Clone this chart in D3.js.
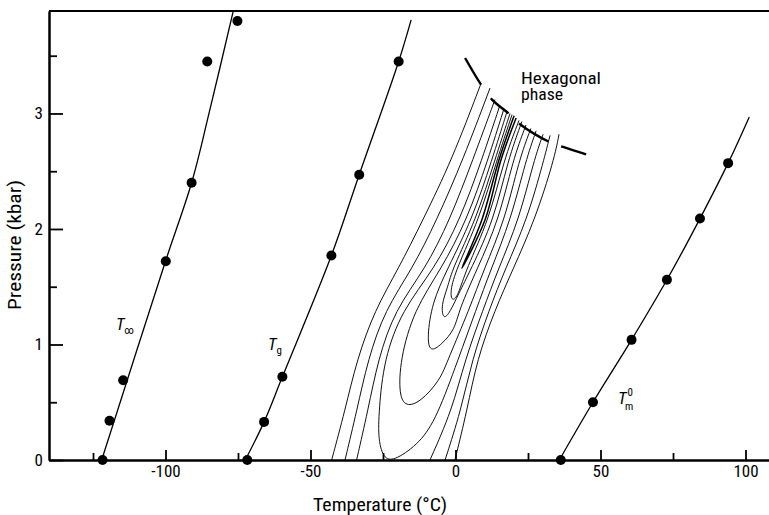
<!DOCTYPE html>
<html>
<head>
<meta charset="utf-8">
<script src="https://cdn.jsdelivr.net/npm/d3@7"></script>
<style>
body { margin: 0; background: #fff; }
svg { display: block; }
</style>
</head>
<body>
<svg id="chart" width="769" height="515"></svg>
<script>
// ---- data (temperature in °C, pressure in kbar) ----
var xMajor = [-100, -50, 0, 50, 100];
var xMinor = [-125, -75, -25, 25, 75];
var yMajor = [0, 1, 2, 3];
var yMinor = [0.5, 1.5, 2.5, 3.5];

var tInfDots = [[-121.7, 0], [-119.3, 0.34], [-114.6, 0.69], [-99.9, 1.72], [-91.0, 2.40], [-85.6, 3.45], [-75.2, 3.80]];
var tInfLine = [[-122.0, 0], [-100.0, 1.72], [-91.0, 2.40], [-85.0, 3.0], [-76.6, 3.89]];

var tgDots = [[-71.8, 0], [-66.0, 0.33], [-59.7, 0.72], [-42.8, 1.77], [-33.2, 2.47], [-19.6, 3.45]];
var tgLine = [[-72.5, 0], [-66.0, 0.33], [-59.7, 0.72], [-42.8, 1.77], [-33.2, 2.47], [-19.6, 3.45], [-15.3, 3.81]];

var tmDots = [[36.3, 0], [47.4, 0.50], [60.7, 1.04], [72.9, 1.56], [84.3, 2.09], [94.0, 2.57]];
var tmLine = [[35.8, 0], [47.4, 0.50], [60.7, 1.04], [72.9, 1.56], [84.3, 2.09], [94.0, 2.57], [101.3, 2.97]];

var hexBoundary = [[3.3, 3.48], [8.8, 3.25], [12.6, 3.12], [18.8, 2.99], [22.6, 2.90], [32.6, 2.75], [37.1, 2.71], [45.7, 2.64]];

// contour lines of the crystallisation map, outer open branches first
var contours = [
  [[-42.7, 0], [-38.1, 0.43], [-34.0, 0.87], [-27.8, 1.30], [-19.8, 1.65], [-11.2, 2.08], [-1.2, 2.60], [8.8, 3.26]],
  [[-0.2, 0], [4.0, 0.43], [7.4, 0.87], [13.6, 1.30], [19.8, 1.65], [27.4, 2.08], [34.0, 2.60], [35.7, 2.82]],
  [[-38.1, 0], [-34.0, 0.43], [-30.2, 0.87], [-24.3, 1.30], [-15.0, 1.65], [-6.4, 2.08], [2.6, 2.60], [11.9, 3.22]],
  [[-3.6, 0], [1.9, 0.43], [5.7, 0.87], [11.6, 1.30], [17.1, 1.65], [24.7, 2.08], [30.5, 2.60], [32.6, 2.81]],
  [[-34.1, 0], [-30.2, 0.43], [-26.7, 0.87], [-20.9, 1.30], [-10.5, 1.65], [-1.9, 2.08], [6.0, 2.60], [13.6, 3.12]],
  [[-8.8, 0], [-1.2, 0.43], [3.3, 0.87], [9.5, 1.30], [14.7, 1.65], [21.9, 2.08], [27.1, 2.60], [30.2, 2.82]],
  [[15.3, 3.07], [9.1, 2.60], [1.6, 2.08], [-7.4, 1.65], [-18.4, 1.30], [-24.7, 0.87], [-26.4, 0.43], [-26.7, 0.17], [-24.6, 0.0], [-20.6, 0.0], [-12.2, 0.15], [-6.4, 0.37], [0.9, 0.87], [7.1, 1.30], [12.2, 1.65], [19.1, 2.08], [24.3, 2.60], [27.8, 2.85]],
  [[16.7, 3.04], [11.2, 2.60], [4.0, 2.08], [-5.0, 1.65], [-14.3, 1.30], [-19.1, 0.87], [-19.5, 0.56], [-17.1, 0.46], [-12.2, 0.50], [-5.3, 0.69], [-2.6, 0.87], [4.7, 1.30], [9.8, 1.65], [17.1, 2.08], [21.9, 2.60], [26.0, 2.87]],
  [[17.8, 3.02], [12.6, 2.60], [5.7, 2.08], [-2.9, 1.65], [-8.1, 1.36], [-9.8, 1.06], [-8.8, 0.93], [-4.8, 1.00], [-0.2, 1.13], [1.2, 1.30], [7.4, 1.65], [15.0, 2.08], [19.8, 2.60], [24.3, 2.90]],
  [[18.8, 3.00], [13.6, 2.60], [7.1, 2.08], [-1.2, 1.65], [-2.6, 1.50], [-5.0, 1.34], [-4.2, 1.21], [-1.9, 1.28], [0.9, 1.43], [5.3, 1.65], [13.3, 2.08], [18.1, 2.60], [22.9, 2.93]],
  [[19.5, 2.99], [14.3, 2.60], [8.1, 2.08], [0.2, 1.65], [-1.9, 1.46], [-1.2, 1.37], [0.9, 1.42], [3.6, 1.65], [11.6, 2.08], [16.7, 2.60], [21.9, 2.94]]
];
var innerContour = [[20.2, 2.98], [15.0, 2.60], [9.1, 2.08], [2.2, 1.66], [10.2, 2.08], [15.7, 2.60], [20.9, 2.96]];

// ---- chart ----
var font = "'Liberation Sans Narrow', 'Roboto Condensed', 'DejaVu Sans Condensed', 'Liberation Sans', sans-serif";
var svg = d3.select("#chart");
var plotLeft = 49, plotRight = 769, plotTop = 11, plotBottom = 460;

var x = d3.scaleLinear().domain([-140.17, 108.1]).range([plotLeft, plotRight]);
var y = d3.scaleLinear().domain([0, 3.887]).range([plotBottom, plotTop]);

svg.append("defs").append("clipPath").attr("id", "plot")
  .append("rect").attr("x", plotLeft).attr("y", plotTop - 1)
  .attr("width", plotRight - plotLeft).attr("height", plotBottom - plotTop + 1);

var line = d3.line()
  .x(function(d) { return x(d[0]); })
  .y(function(d) { return y(d[1]); })
  .curve(d3.curveCatmullRom.alpha(0.5));

// contours are smoothed rather than interpolated, they were hand-drawn
var smooth = d3.line()
  .x(function(d) { return x(d[0]); })
  .y(function(d) { return y(d[1]); })
  .curve(d3.curveBasis);

var plot = svg.append("g").attr("clip-path", "url(#plot)");

plot.selectAll(".contour")
  .data(contours)
  .enter().append("path")
  .attr("class", "contour")
  .attr("d", smooth)
  .attr("fill", "none")
  .attr("stroke", "#111")
  .attr("stroke-width", 1);

// narrow innermost loop keeps its tip
plot.append("path")
  .attr("d", line(innerContour))
  .attr("fill", "none")
  .attr("stroke", "#000")
  .attr("stroke-width", 1.5);

plot.append("path")
  .attr("d", line(hexBoundary))
  .attr("fill", "none")
  .attr("stroke", "#000")
  .attr("stroke-width", 2.4)
  .attr("stroke-dasharray", "31,17,23,15,34,14,26");

[tInfLine, tgLine, tmLine].forEach(function(l) {
  plot.append("path")
    .attr("d", line(l))
    .attr("fill", "none")
    .attr("stroke", "#000")
    .attr("stroke-width", 1.3);
});

svg.selectAll(".dot")
  .data(tInfDots.concat(tgDots, tmDots))
  .enter().append("circle")
  .attr("class", "dot")
  .attr("cx", function(d) { return x(d[0]); })
  .attr("cy", function(d) { return y(d[1]); })
  .attr("r", 5)
  .attr("fill", "#000");

// axes, ticks pointing inward
function styleAxis(g) {
  g.attr("font-family", font).attr("font-size", 17);
  g.selectAll("line").attr("stroke", "#000").attr("stroke-width", 1.8);
  g.select(".domain").attr("stroke", "#000").attr("stroke-width", 2);
}

svg.append("g")
  .attr("transform", "translate(0," + plotBottom + ")")
  .call(d3.axisBottom(x).tickValues(xMinor).tickSize(-7).tickSizeOuter(0).tickFormat(""))
  .call(styleAxis);
svg.append("g")
  .attr("transform", "translate(0," + plotBottom + ")")
  .call(d3.axisBottom(x).tickValues(xMajor).tickSize(-10).tickSizeOuter(0).tickPadding(5)
    .tickFormat(function(d) { return String(d); }))
  .call(styleAxis);

svg.append("g")
  .attr("transform", "translate(" + plotLeft + ",0)")
  .call(d3.axisLeft(y).tickValues(yMinor).tickSize(-8).tickSizeOuter(0).tickFormat(""))
  .call(styleAxis);
svg.append("g")
  .attr("transform", "translate(" + plotLeft + ",0)")
  .call(d3.axisLeft(y).tickValues(yMajor).tickSize(-14).tickSizeOuter(0).tickPadding(6)
    .tickFormat(function(d) { return String(d); }))
  .call(styleAxis);

svg.append("line")
  .attr("x1", plotLeft).attr("x2", plotRight).attr("y1", plotTop).attr("y2", plotTop)
  .attr("stroke", "#000").attr("stroke-width", 2);

// titles
svg.append("text")
  .attr("x", 380).attr("y", 511)
  .attr("text-anchor", "middle")
  .attr("font-family", font).attr("font-size", 18)
  .attr("textLength", 134).attr("lengthAdjust", "spacingAndGlyphs")
  .text("Temperature (°C)");

svg.append("text")
  .attr("transform", "translate(21,245) rotate(-90)")
  .attr("text-anchor", "middle")
  .attr("font-family", font).attr("font-size", 18)
  .attr("textLength", 130).attr("lengthAdjust", "spacingAndGlyphs")
  .text("Pressure (kbar)");

svg.append("text")
  .attr("x", 521).attr("y", 84)
  .attr("font-family", font).attr("font-size", 16)
  .attr("textLength", 80).attr("lengthAdjust", "spacingAndGlyphs")
  .text("Hexagonal");
svg.append("text")
  .attr("x", 521).attr("y", 100)
  .attr("font-family", font).attr("font-size", 16)
  .attr("textLength", 42).attr("lengthAdjust", "spacingAndGlyphs")
  .text("phase");

// curve labels
function curveLabel(px, py, sub, sup) {
  var t = svg.append("text")
    .attr("x", px).attr("y", py)
    .attr("font-family", font).attr("font-size", 17);
  t.append("tspan").attr("font-style", "italic").text("T");
  if (sup) {
    t.append("tspan").attr("font-size", 11).attr("dx", 1).attr("dy", -8).text(sup);
    t.append("tspan").attr("font-size", 11).attr("dx", -8).attr("dy", 14).text(sub);
  } else {
    t.append("tspan").attr("font-size", 11).attr("dx", 0).attr("dy", 4).text(sub);
  }
}
curveLabel(116, 330, "\u221e");
curveLabel(268, 350, "g");
curveLabel(618, 404, "m", "0");
</script>
</body>
</html>
